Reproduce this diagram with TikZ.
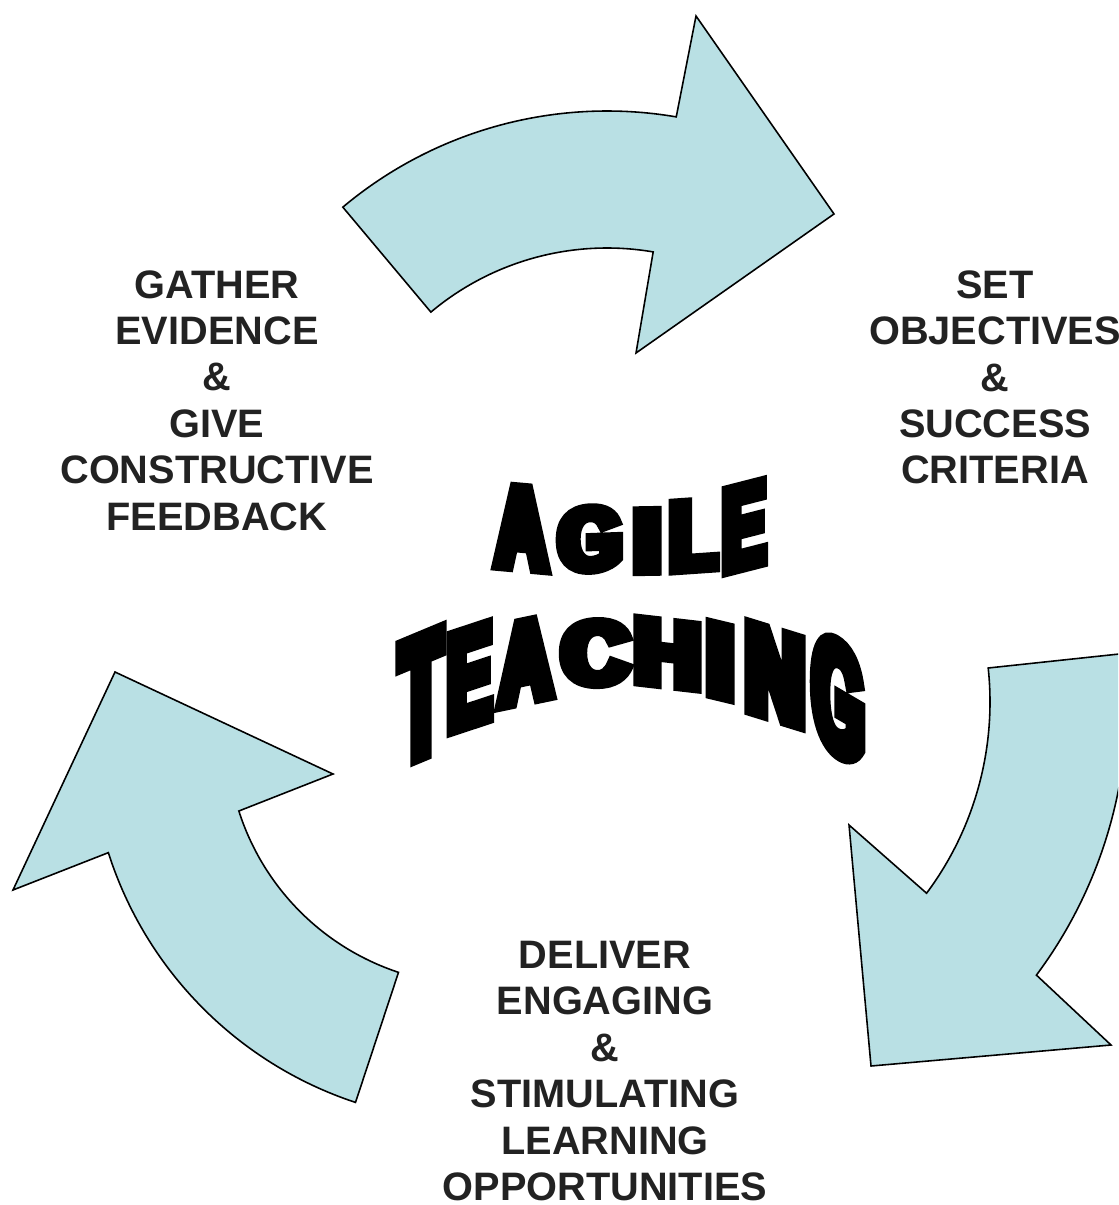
\documentclass[tikz,border=0pt]{standalone}
\usepackage{fontspec}
\usepackage{graphicx}
\newfontfamily\labelfont{Liberation Sans}
\newfontfamily\agilefont{Liberation Sans}[FakeStretch=0.6, FakeBold=10]
\definecolor{arrowblue}{RGB}{185,224,228}
\definecolor{labelgrey}{RGB}{34,34,34}

\tikzset{
  cyclearrow/.style={draw=black, fill=arrowblue, line width=0.45pt, line join=miter},
  steplabel/.style={align=center, inner sep=0pt, text=labelgrey,
    font=\labelfont\bfseries\fontsize{11.3}{13.2}\selectfont},
  wordart/.style={inner sep=0pt, outer sep=0pt, anchor=south west, font=\agilefont\bfseries},
}

% one squeezed and slanted letter of the title
% name, x, y, slant, width, height, left trim, right trim, letter
% (the fake bold stroke sticks out of the glyph box, hence 0.877 and 0.061)
\newcommand{\warpletter}[9]{%
  \pgfmathsetmacro{\inkht}{0.877*#6}%
  \pgfmathsetmacro{\inklift}{0.061*#6}%
  \node[wordart, yslant=#4] (#1) at (#2,#3+\inklift)
    {\resizebox{#5cm}{\inkht cm}{\hspace*{-#7em}#9\hspace*{-#8em}}};}

\begin{document}
\begin{tikzpicture}
  \useasboundingbox (0,0) rectangle (11.18,-12.05);
  \clip (0,0) rectangle (11.18,-12.05);

  % centres of the three curved arrows
  \coordinate (topc) at (6.07,-5.22);
  \coordinate (rightc) at (6.70,-7.02);
  \coordinate (leftc) at (4.77,-7.35);

  \draw[cyclearrow] ([shift={(130:4.11)}]topc) arc[start angle=130, end angle=80.3, radius=4.11]
    -- (6.96,-0.16) -- (8.34,-2.14) -- (6.36,-3.53)
    -- ([shift={(80.3:2.74)}]topc) arc[start angle=80.3, end angle=130, radius=2.74] -- cycle;
  \draw[cyclearrow] ([shift={(6.1:4.57)}]rightc) arc[start angle=6.1, end angle=-36.7, radius=4.57]
    -- (11.11,-10.45) -- (8.71,-10.66) -- (8.49,-8.25)
    -- ([shift={(-36.7:3.20)}]rightc) arc[start angle=-36.7, end angle=6.1, radius=3.20] -- cycle;
  \draw[cyclearrow] ([shift={(251.7:3.87)}]leftc) arc[start angle=251.7, end angle=197.7, radius=3.87]
    -- (0.13,-8.90) -- (1.15,-6.72) -- (3.33,-7.74)
    -- ([shift={(197.7:2.50)}]leftc) arc[start angle=197.7, end angle=251.7, radius=2.50] -- cycle;

  % the three steps
  \node[steplabel] (gather) at (2.17,-4.005) {GATHER\\EVIDENCE\\\&\\GIVE\\CONSTRUCTIVE\\FEEDBACK};
  \node[steplabel] (setobj) at (9.95,-3.775) {SET\\OBJECTIVES\\\&\\SUCCESS\\CRITERIA};
  \node[steplabel] (deliver) at (6.05,-10.71) {DELIVER\\ENGAGING\\\&\\STIMULATING\\LEARNING\\OPPORTUNITIES};

  \begin{scope}[line join=miter, miter limit=2]
    % title, upper word
    \warpletter{agA}{4.90}{-5.70}{-0.09}{0.63}{0.90}{-0.05}{-0.05}{A}
    \warpletter{agG}{5.56}{-5.76}{0.037}{0.68}{0.705}{-0.023}{-0.02}{G}
    \warpletter{agI}{6.33}{-5.76}{0.017}{0.29}{0.695}{-0.007}{-0.012}{I}
    \warpletter{agL}{6.69}{-5.755}{0.069}{0.51}{0.765}{-0.006}{-0.03}{L}
    \warpletter{agE}{7.22}{-5.78}{0.256}{0.45}{0.915}{-0.006}{-0.016}{E}
    % title, lower word
    \warpletter{teT}{3.96}{-7.73}{0.417}{0.50}{1.32}{-0.038}{-0.038}{T}
    \warpletter{teE}{4.47}{-7.38}{0.33}{0.46}{1.065}{-0.006}{-0.016}{E}
    \warpletter{teA}{4.93}{-7.13}{0.208}{0.65}{0.895}{-0.05}{-0.05}{A}
    \warpletter{teC}{5.59}{-6.895}{0.014}{0.73}{0.71}{-0.024}{-0.024}{C}
    \warpletter{teH}{6.34}{-6.86}{-0.115}{0.67}{0.725}{-0.006}{-0.006}{H}
    \warpletter{teI}{7.06}{-6.98}{-0.24}{0.29}{0.81}{-0.007}{-0.012}{I}
    \warpletter{teN}{7.45}{-7.145}{-0.309}{0.60}{0.98}{-0.006}{-0.006}{N}
    \warpletter{teG}{8.10}{-7.445}{-0.585}{0.56}{1.24}{-0.023}{-0.02}{G}
  \end{scope}
\end{tikzpicture}
\end{document}
